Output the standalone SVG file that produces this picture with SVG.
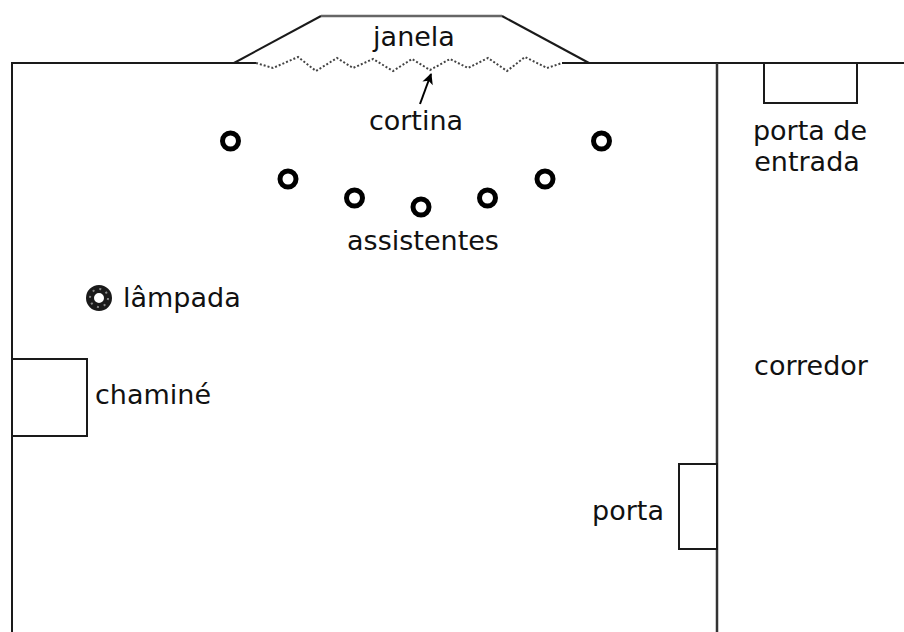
<svg xmlns="http://www.w3.org/2000/svg" width="904" height="632" viewBox="0 0 904 632">
  <defs>
    <style>
      .wall { fill: none; stroke: #1a1a1a; stroke-width: 2; }
      .box { fill: #ffffff; stroke: #1a1a1a; stroke-width: 2; }
      .seat { fill: none; stroke: #000000; stroke-width: 5; }
      .lbl { font-family: "DejaVu Sans", "Liberation Sans", sans-serif; font-size: 27px; fill: #111111; }
      .mid { text-anchor: middle; }
    </style>
    <marker id="arrowhead" viewBox="0 0 10 10" refX="9" refY="5" markerWidth="14" markerHeight="11" markerUnits="userSpaceOnUse" orient="auto">
      <path d="M0,0 L10,5 L0,10 L2.5,5 Z" fill="#000000"/>
    </marker>
  </defs>
  <rect x="0" y="0" width="904" height="632" fill="#ffffff"/>

  <g id="walls">
    <path class="wall" d="M12,632 L12,63 L256,63"/>
    <path class="wall" d="M562,63 L904,63"/>
    <path d="M717,63 L717,632" fill="none" stroke="#333333" stroke-width="2.5"/>
  </g>

  <g id="janela">
    <path class="wall" d="M234,63 L321,16"/>
    <path class="wall" d="M502,16 L589,63"/>
    <path d="M321,16 L502,16" fill="none" stroke="#666666" stroke-width="2.5"/>
    <text class="lbl mid" x="414" y="46">janela</text>
  </g>

  <g id="cortina">
    <polyline fill="none" stroke="#444444" stroke-width="2" stroke-dasharray="2 2"
      points="256,63 273,68 298,57 316,71 337,58 353,68 373,59 393,71 412,59 430,70 450,59 468,68 488,58 507,71 525,57 547,68 562,63"/>
    <text class="lbl mid" x="416" y="130">cortina</text>
  </g>

  <g id="connectors">
    <line x1="420" y1="104" x2="431" y2="74" stroke="#000000" stroke-width="2" marker-end="url(#arrowhead)"/>
  </g>

  <g id="assistentes">
    <circle class="seat" cx="230.5" cy="141" r="8"/>
    <circle class="seat" cx="288" cy="179" r="8"/>
    <circle class="seat" cx="354.5" cy="198" r="8"/>
    <circle class="seat" cx="421" cy="207" r="8"/>
    <circle class="seat" cx="487.5" cy="198" r="8"/>
    <circle class="seat" cx="545" cy="179" r="8"/>
    <circle class="seat" cx="601.5" cy="141" r="8"/>
    <text class="lbl mid" x="423" y="250">assistentes</text>
  </g>

  <g id="lampada">
    <circle cx="99" cy="298" r="9" fill="none" stroke="#1a1a1a" stroke-width="8"/>
    <circle cx="99" cy="298" r="9" fill="none" stroke="#888888" stroke-width="2" stroke-dasharray="2 5.07"/>
    <text class="lbl" x="123" y="307">lâmpada</text>
  </g>

  <g id="chamine">
    <rect class="box" x="12" y="359" width="75" height="77"/>
    <text class="lbl" x="95" y="404">chaminé</text>
  </g>

  <g id="porta">
    <rect class="box" x="679" y="464" width="38" height="85"/>
    <text class="lbl mid" x="628" y="520">porta</text>
  </g>

  <g id="porta-de-entrada">
    <rect class="box" x="764" y="63" width="93" height="40"/>
    <text class="lbl mid" x="810" y="140">porta de</text>
    <text class="lbl mid" x="807" y="171">entrada</text>
  </g>

  <g id="corredor">
    <text class="lbl mid" x="811" y="375">corredor</text>
  </g>
</svg>
